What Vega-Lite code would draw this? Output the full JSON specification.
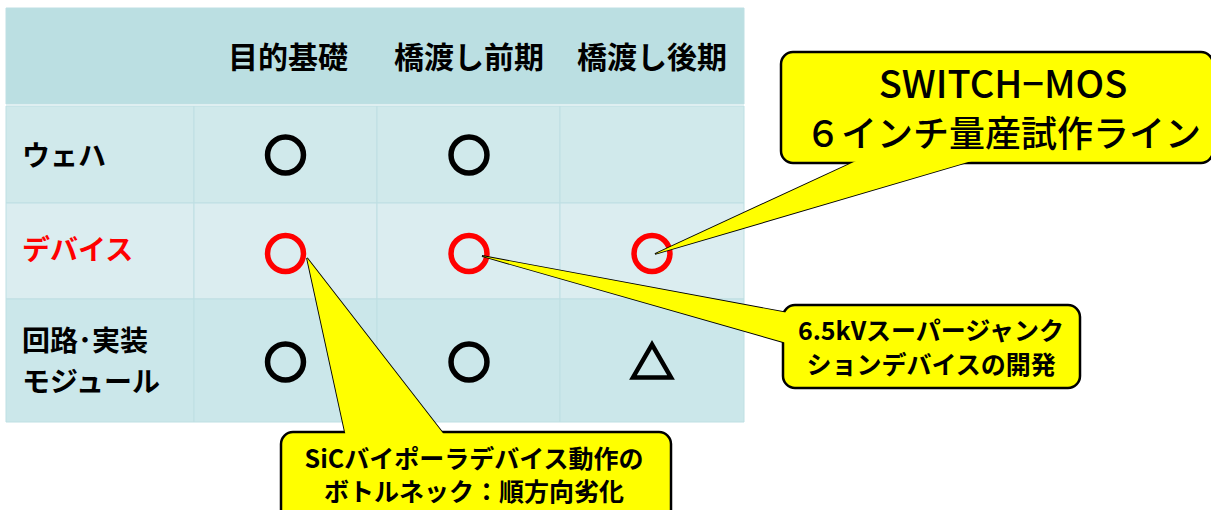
{
  "$schema": "https://vega.github.io/schema/vega-lite/v6.json",
  "width": 1211,
  "height": 510,
  "padding": 0,
  "autosize": {"type": "fit", "contains": "padding"},
  "background": "white",
  "config": {"view": {"stroke": null}},
  "datasets": {
    "cells": [
      {"band": "header", "x1": 6, "x2": 744, "y1": 8, "y2": 104},
      {"band": "r1", "x1": 6, "x2": 194, "y1": 106, "y2": 203},
      {"band": "r1", "x1": 194, "x2": 377, "y1": 106, "y2": 203},
      {"band": "r1", "x1": 377, "x2": 560, "y1": 106, "y2": 203},
      {"band": "r1", "x1": 560, "x2": 744, "y1": 106, "y2": 203},
      {"band": "r2", "x1": 6, "x2": 194, "y1": 203, "y2": 299},
      {"band": "r2", "x1": 194, "x2": 377, "y1": 203, "y2": 299},
      {"band": "r2", "x1": 377, "x2": 560, "y1": 203, "y2": 299},
      {"band": "r2", "x1": 560, "x2": 744, "y1": 203, "y2": 299},
      {"band": "r3", "x1": 6, "x2": 194, "y1": 299, "y2": 422},
      {"band": "r3", "x1": 194, "x2": 377, "y1": 299, "y2": 422},
      {"band": "r3", "x1": 377, "x2": 560, "y1": 299, "y2": 422},
      {"band": "r3", "x1": 560, "x2": 744, "y1": 299, "y2": 422}
    ],
    "headers": [
      {"text": "目的基礎", "x": 288, "y": 59},
      {"text": "橋渡し前期", "x": 469, "y": 59},
      {"text": "橋渡し後期", "x": 652, "y": 59}
    ],
    "labels": [
      {"text": "ウェハ", "x": 22, "y": 158, "hl": "n"},
      {"text": "デバイス", "x": 22, "y": 252, "hl": "y"},
      {"text": "回路･実装\nモジュール", "x": 22, "y": 342.5, "hl": "n"}
    ],
    "symbols": [
      {"row": "ウェハ", "col": "目的基礎", "shape": "circle", "hl": "n", "x": 285.5, "y": 155},
      {"row": "ウェハ", "col": "橋渡し前期", "shape": "circle", "hl": "n", "x": 469, "y": 155},
      {"row": "デバイス", "col": "目的基礎", "shape": "circle", "hl": "y", "x": 285.5, "y": 253.5},
      {"row": "デバイス", "col": "橋渡し前期", "shape": "circle", "hl": "y", "x": 469, "y": 253.5},
      {"row": "デバイス", "col": "橋渡し後期", "shape": "circle", "hl": "y", "x": 652, "y": 253.5},
      {"row": "回路・実装", "col": "目的基礎", "shape": "circle", "hl": "n", "x": 285.5, "y": 362},
      {"row": "回路・実装", "col": "橋渡し前期", "shape": "circle", "hl": "n", "x": 469, "y": 362},
      {"row": "回路・実装", "col": "橋渡し後期", "shape": "triangle", "hl": "n", "x": 652, "y": 361}
    ],
    "boxes": [
      {"id": "switch", "x1": 781, "x2": 1213, "y1": 52, "y2": 163},
      {"id": "sj", "x1": 783, "x2": 1080, "y1": 305, "y2": 388},
      {"id": "sic", "x1": 281, "x2": 671, "y1": 432, "y2": 525}
    ],
    "tails": [
      {"id": "switch", "ord": 1, "x": 869, "y": 155},
      {"id": "switch", "ord": 2, "x": 655, "y": 254},
      {"id": "switch", "ord": 3, "x": 992, "y": 155},
      {"id": "sj", "ord": 1, "x": 791, "y": 313.5},
      {"id": "sj", "ord": 2, "x": 482, "y": 256},
      {"id": "sj", "ord": 3, "x": 791, "y": 344.3},
      {"id": "sic", "ord": 1, "x": 346.7, "y": 440},
      {"id": "sic", "ord": 2, "x": 307, "y": 258},
      {"id": "sic", "ord": 3, "x": 448.2, "y": 440}
    ],
    "calltext": [
      {"id": "switch", "line": 1, "text": "SWITCH−MOS", "x": 1003, "y": 87},
      {"id": "switch", "line": 2, "text": "６インチ量産試作ライン", "x": 1003, "y": 136},
      {"id": "sj", "line": 1, "text": "6.5kVスーパージャンク", "x": 931, "y": 332},
      {"id": "sj", "line": 2, "text": "ションデバイスの開発", "x": 931, "y": 366},
      {"id": "sic", "line": 1, "text": "SiCバイポーラデバイス動作の", "x": 474, "y": 460},
      {"id": "sic", "line": 2, "text": "ボトルネック：順方向劣化", "x": 474, "y": 493}
    ]
  },
  "layer": [
    {
      "data": {"name": "cells"},
      "mark": {"type": "rect", "stroke": "#BEDFE3", "strokeWidth": 1},
      "encoding": {
        "x": {"field": "x1", "type": "quantitative", "scale": {"domain": [0, 1211], "nice": false, "zero": false}, "axis": null},
        "x2": {"field": "x2"},
        "y": {"field": "y1", "type": "quantitative", "scale": {"domain": [0, 510], "reverse": true, "nice": false, "zero": false}, "axis": null},
        "y2": {"field": "y2"},
        "fill": {"field": "band", "type": "nominal", "scale": {"domain": ["header", "r1", "r2", "r3"], "range": ["#BBDFE2", "#D0E9EB", "#DBEDF0", "#CBE7EA"]}, "legend": null}
      }
    },
    {
      "data": {"name": "headers"},
      "mark": {"type": "text", "font": "Noto Sans CJK JP", "fontWeight": "bold", "fontSize": 30, "align": "center", "baseline": "middle", "color": "black"},
      "encoding": {
        "x": {"field": "x", "type": "quantitative", "axis": null},
        "y": {"field": "y", "type": "quantitative", "axis": null},
        "text": {"field": "text"}
      }
    },
    {
      "data": {"name": "labels"},
      "mark": {"type": "text", "font": "Noto Sans CJK JP", "fontWeight": "bold", "fontSize": 28, "align": "left", "baseline": "middle", "lineBreak": "\n", "lineHeight": 41},
      "encoding": {
        "x": {"field": "x", "type": "quantitative", "axis": null},
        "y": {"field": "y", "type": "quantitative", "axis": null},
        "text": {"field": "text"},
        "color": {"field": "hl", "type": "nominal", "scale": {"domain": ["n", "y"], "range": ["#000000", "#FF0000"]}, "legend": null}
      }
    },
    {
      "data": {"name": "symbols"},
      "transform": [{"filter": "datum.shape === 'circle'"}],
      "mark": {"type": "point", "shape": "circle", "filled": false, "size": 1290, "strokeWidth": 5.5, "opacity": 1},
      "encoding": {
        "x": {"field": "x", "type": "quantitative", "axis": null},
        "y": {"field": "y", "type": "quantitative", "axis": null},
        "color": {"field": "hl", "type": "nominal", "scale": {"domain": ["n", "y"], "range": ["#000000", "#FF0000"]}, "legend": null}
      }
    },
    {
      "data": {"name": "symbols"},
      "transform": [{"filter": "datum.shape === 'triangle'"}],
      "mark": {"type": "point", "shape": "triangle-up", "filled": false, "size": 1444, "strokeWidth": 4.5, "color": "#000000", "opacity": 1},
      "encoding": {
        "x": {"field": "x", "type": "quantitative", "axis": null},
        "y": {"field": "y", "type": "quantitative", "axis": null}
      }
    },
    {
      "data": {"name": "tails"},
      "mark": {"type": "line", "fill": "#FFFF00", "stroke": "#000000", "strokeWidth": 1.8, "strokeJoin": "miter", "clip": true},
      "encoding": {
        "x": {"field": "x", "type": "quantitative", "axis": null},
        "y": {"field": "y", "type": "quantitative", "axis": null},
        "detail": {"field": "id"},
        "order": {"field": "ord", "type": "quantitative"}
      }
    },
    {
      "data": {"name": "boxes"},
      "mark": {"type": "rect", "fill": "#FFFF00", "stroke": "#000000", "strokeWidth": 2.5, "cornerRadius": 12, "clip": true},
      "encoding": {
        "x": {"field": "x1", "type": "quantitative", "axis": null},
        "x2": {"field": "x2"},
        "y": {"field": "y1", "type": "quantitative", "axis": null},
        "y2": {"field": "y2"}
      }
    },
    {
      "data": {"name": "tails"},
      "mark": {"type": "line", "fill": "#FFFF00", "stroke": null, "strokeWidth": 0, "clip": true},
      "encoding": {
        "x": {"field": "x", "type": "quantitative", "axis": null},
        "y": {"field": "y", "type": "quantitative", "axis": null},
        "detail": {"field": "id"},
        "order": {"field": "ord", "type": "quantitative"}
      }
    },
    {
      "data": {"name": "calltext"},
      "transform": [{"filter": "datum.id === 'switch' && datum.line === 1"}],
      "mark": {"type": "text", "font": "Noto Sans CJK JP", "fontWeight": 500, "fontSize": 38, "align": "center", "baseline": "middle", "color": "#000000"},
      "encoding": {
        "x": {"field": "x", "type": "quantitative", "axis": null},
        "y": {"field": "y", "type": "quantitative", "axis": null},
        "text": {"field": "text"}
      }
    },
    {
      "data": {"name": "calltext"},
      "transform": [{"filter": "datum.id === 'switch' && datum.line === 2"}],
      "mark": {"type": "text", "font": "Noto Sans CJK JP", "fontWeight": 500, "fontSize": 36, "align": "center", "baseline": "middle", "color": "#000000"},
      "encoding": {
        "x": {"field": "x", "type": "quantitative", "axis": null},
        "y": {"field": "y", "type": "quantitative", "axis": null},
        "text": {"field": "text"}
      }
    },
    {
      "data": {"name": "calltext"},
      "transform": [{"filter": "datum.id !== 'switch'"}],
      "mark": {"type": "text", "font": "Noto Sans CJK JP", "fontWeight": "bold", "fontSize": 25, "align": "center", "baseline": "middle", "color": "#000000"},
      "encoding": {
        "x": {"field": "x", "type": "quantitative", "axis": null},
        "y": {"field": "y", "type": "quantitative", "axis": null},
        "text": {"field": "text"}
      }
    }
  ]
}
